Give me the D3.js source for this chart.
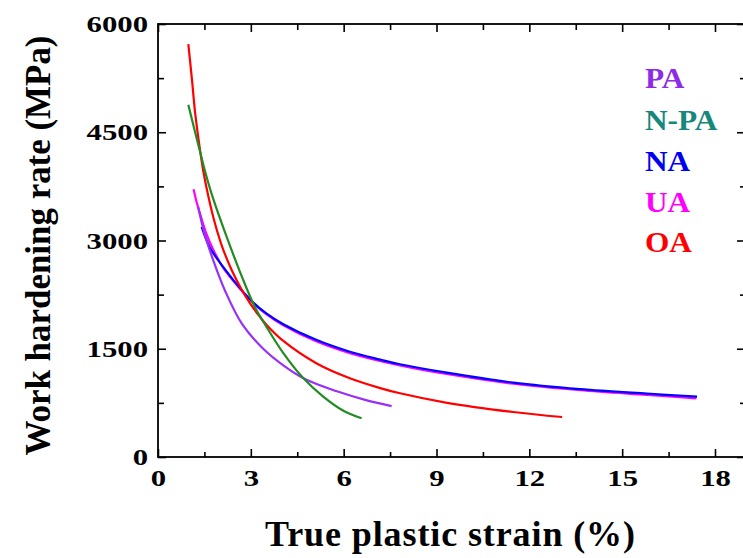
<!DOCTYPE html>
<html>
<head>
<meta charset="utf-8">
<script src="https://cdn.jsdelivr.net/npm/d3@7/dist/d3.min.js"></script>
<style>
  html, body { margin: 0; padding: 0; background: #fff; }
  svg { display: block; }
  text { font-family: "Liberation Serif", "Times New Roman", serif; font-weight: bold; }
</style>
</head>
<body>
<script>
// Work hardening rate vs. true plastic strain for five ageing conditions
const seriesNames = ["PA", "N-PA", "NA", "UA", "OA"];
const lineColors = ["#9a30f5", "#238b23", "#0000ff", "#ff00ff", "#ff0000"];
const labelColors = ["#8d2be6", "#17877c", "#0000f0", "#ff00ff", "#ff0000"];

const strainPA = [1.30, 1.50, 1.79, 2.17, 2.72, 3.40, 4.05, 4.75, 5.78, 6.75, 7.55];
const ratePA   = [3460, 3100, 2720, 2300, 1840, 1500, 1270, 1080, 910, 785, 705];

const strainNPA = [0.98, 1.20, 1.36, 1.52, 1.73, 2.22, 2.71, 3.13, 3.51, 4.05, 4.70, 5.34, 5.99, 6.58];
const rateNPA   = [4880, 4500, 4230, 3960, 3650, 3050, 2500, 2080, 1800, 1440, 1090, 836, 640, 536];

const strainNA = [1.41, 1.68, 2.11, 2.65, 3.08, 3.50, 4.05, 5.13, 6.20, 7.18, 7.82, 9.33, 11.48, 13.64, 15.80, 17.42];
const rateNA   = [3190, 2900, 2630, 2340, 2140, 1990, 1840, 1620, 1459, 1350, 1285, 1168, 1030, 940, 878, 836];

const strainUA = [1.15, 1.25, 1.36, 1.55, 1.79, 2.11, 2.65, 3.08, 3.50, 4.05, 5.13, 6.20, 7.82, 9.33, 11.48, 13.64, 15.80, 17.40];
const rateUA   = [3710, 3530, 3370, 3110, 2870, 2620, 2330, 2130, 1980, 1825, 1600, 1440, 1270, 1150, 1015, 925, 860, 813];

const strainOA = [0.98, 1.10, 1.20, 1.36, 1.46, 1.63, 1.84, 2.06, 2.38, 2.71, 2.97, 3.30, 3.51, 4.05, 5.13, 6.20, 7.18, 7.82, 9.34, 11.47, 13.06];
const rateOA   = [5720, 5220, 4770, 4250, 3970, 3607, 3238, 2930, 2591, 2314, 2132, 1938, 1830, 1608, 1296, 1091, 955, 883, 751, 624, 554];

const xMajorTicks = [0, 3, 6, 9, 12, 15, 18];
const xMinorTicks = [1.5, 4.5, 7.5, 10.5, 13.5, 16.5];
const yMajorTicks = [0, 1500, 3000, 4500, 6000];
const yMinorTicks = [750, 2250, 3750, 5250];

const xTitle = "True plastic strain (%)";
const yTitle = "Work hardening rate (MPa)";

const W = 743, H = 558;
const plotLeft = 158, plotTop = 24, plotBottom = 457, plotRight = 744;

const svg = d3.select("body").append("svg").attr("width", W).attr("height", H);

const x = d3.scaleLinear().domain([0, 18]).range([plotLeft, 715]);
const y = d3.scaleLinear().domain([0, 6000]).range([plotBottom, plotTop]);

// stretch label glyphs horizontally like the typeset figure
function widen(sel, factor) {
  sel.each(function () {
    const n = this.getComputedTextLength();
    d3.select(this).attr("textLength", n * factor).attr("lengthAdjust", "spacingAndGlyphs");
  });
}

// bottom axis: major with labels, minor without
const gxMinor = svg.append("g").attr("transform", `translate(0,${plotBottom})`)
  .call(d3.axisBottom(x).tickValues(xMinorTicks).tickSize(-5).tickFormat(""));
const gx = svg.append("g").attr("transform", `translate(0,${plotBottom})`)
  .call(d3.axisBottom(x).tickValues(xMajorTicks).tickSize(-8).tickPadding(12).tickFormat(d3.format("d")));
// top axis ticks
const gtMinor = svg.append("g").attr("transform", `translate(0,${plotTop})`)
  .call(d3.axisTop(x).tickValues(xMinorTicks).tickSize(-6).tickFormat(""));
const gt = svg.append("g").attr("transform", `translate(0,${plotTop})`)
  .call(d3.axisTop(x).tickValues(xMajorTicks).tickSize(-8).tickFormat(""));
// left axis
const gyMinor = svg.append("g").attr("transform", `translate(${plotLeft},0)`)
  .call(d3.axisLeft(y).tickValues(yMinorTicks).tickSize(-6).tickFormat(""));
const gy = svg.append("g").attr("transform", `translate(${plotLeft},0)`)
  .call(d3.axisLeft(y).tickValues(yMajorTicks).tickSize(-8).tickPadding(10).tickFormat(d3.format("d")));
// right axis (frame edge sits at the border)
const grMinor = svg.append("g").attr("transform", `translate(${plotRight},0)`)
  .call(d3.axisRight(y).tickValues(yMinorTicks).tickSize(-4).tickFormat(""));
const gr = svg.append("g").attr("transform", `translate(${plotRight},0)`)
  .call(d3.axisRight(y).tickValues(yMajorTicks).tickSize(-7).tickFormat(""));

[gxMinor, gx, gtMinor, gt, gyMinor, gy, grMinor, gr].forEach(g => {
  g.select(".domain").remove();
  g.selectAll(".tick line").attr("stroke", "#000").attr("stroke-width", 1.6);
});

gx.selectAll(".tick text").attr("font-size", 24).attr("fill", "#000")
  .style("font-family", "'Liberation Serif', serif").style("font-weight", "bold");
gy.selectAll(".tick text").attr("font-size", 24).attr("fill", "#000")
  .style("font-family", "'Liberation Serif', serif").style("font-weight", "bold");
widen(gx.selectAll(".tick text"), 1.28);
widen(gy.selectAll(".tick text"), 1.28);

// frame
svg.append("rect")
  .attr("x", plotLeft).attr("y", plotTop)
  .attr("width", plotRight - plotLeft).attr("height", plotBottom - plotTop)
  .attr("fill", "none").attr("stroke", "#000").attr("stroke-width", 1.8);

// curves
const strains = [strainPA, strainNPA, strainNA, strainUA, strainOA];
const rates = [ratePA, rateNPA, rateNA, rateUA, rateOA];
const line = d3.line().x(d => x(d[0])).y(d => y(d[1])).curve(d3.curveCatmullRom.alpha(0.5));
const drawOrder = [3, 2, 0, 4, 1];
drawOrder.forEach(i => {
  const pts = strains[i].map((s, k) => [s, rates[i][k]]);
  svg.append("path")
    .datum(pts)
    .attr("d", line)
    .attr("fill", "none")
    .attr("stroke", lineColors[i])
    .attr("stroke-width", 2.2)
    .attr("stroke-linejoin", "round");
});

// legend
const legendY = [88, 130, 171, 212, 252];
const legend = svg.append("g");
seriesNames.forEach((name, i) => {
  legend.append("text")
    .attr("x", 645).attr("y", legendY[i])
    .attr("font-size", 29)
    .attr("fill", labelColors[i])
    .text(name);
});
widen(legend.selectAll("text"), 1.08);

// axis titles
svg.append("text")
  .attr("x", 450).attr("y", 546)
  .attr("text-anchor", "middle")
  .attr("font-size", 36)
  .attr("fill", "#000")
  .attr("textLength", 370).attr("lengthAdjust", "spacing")
  .text(xTitle);

svg.append("text")
  .attr("transform", `translate(50,${(plotTop + plotBottom) / 2 + 5}) rotate(-90)`)
  .attr("text-anchor", "middle")
  .attr("font-size", 35)
  .attr("fill", "#000")
  .attr("textLength", 420).attr("lengthAdjust", "spacingAndGlyphs")
  .text(yTitle);
</script>
</body>
</html>
